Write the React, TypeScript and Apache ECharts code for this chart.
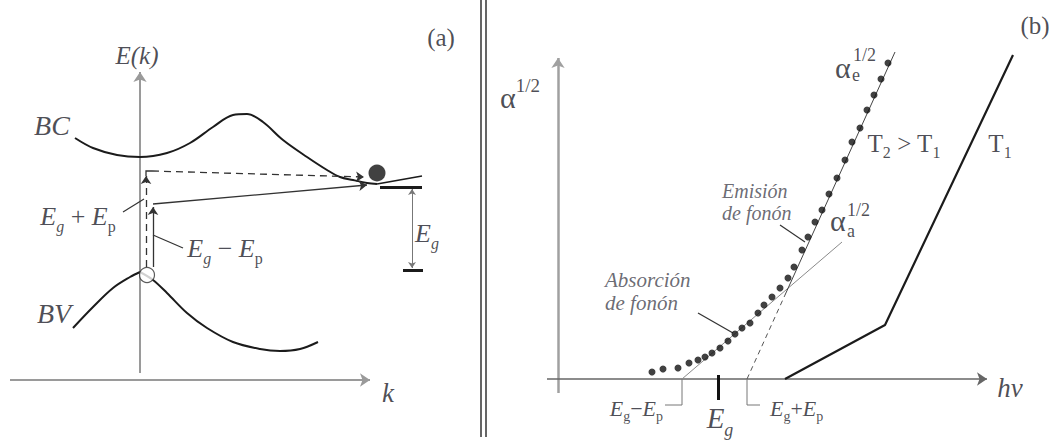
import React, { useEffect, useRef } from "react";
import * as echarts from "echarts";

type P = [number, number];

// ---------- (a) band diagram E(k): k and E in arbitrary units, origin at the axes crossing
const conductionBand: P[] = [
  [-3.25, 12.1], [-2.35, 11.6], [-1.15, 11.25], [0, 11.15], [1.35, 11.35], [2.5, 11.85],
  [3.65, 12.65], [4.65, 13.25], [5.35, 13.3], [6.15, 12.9], [7.15, 12.0], [8.35, 11.15],
  [9.35, 10.5], [10.0, 10.15], [10.65, 10.0], [11.35, 9.85], [11.85, 9.8],
];
const conductionTail: P[] = [[11.85, 9.8], [14.1, 10.2]];
const valenceLeft: P[] = [[-3.35, 2.6], [-2.35, 3.65], [-1.35, 4.6], [-0.5, 5.15], [0, 5.4]];
const valenceRight: P[] = [
  [0, 5.4], [0.65, 5.0], [1.35, 4.35], [2.35, 3.35], [3.35, 2.6], [4.65, 1.9],
  [6.0, 1.55], [7.0, 1.45], [8.0, 1.55], [8.9, 1.9],
];
const electron: P[] = [[11.85, 10.35]];
const hole: P[] = [[0.35, 5.25]];
const bandEdge: P[] = [[12.0, 9.65], [14.1, 9.65]];
const gapFoot: P[] = [[13.15, 5.5], [14.15, 5.5]];
const gapSpan: P[] = [[13.6, 9.55], [13.6, 5.6]];
const kAxis: P[] = [[-6.5, 0], [11.5, 0]];
const eAxis: P[] = [[0, 0.35], [0, 15.4]];
// photon + phonon emission path (dashed) and photon + phonon absorption path (solid)
const emissionRise: P[] = [[0.3, 5.65], [0.3, 10.2]];
const emissionCorner: P[] = [[0.3, 10.2], [0.3, 10.45], [0.6, 10.45]];
const emissionRun: P[] = [[0.6, 10.45], [11.2, 10.15]];
const absorptionRise: P[] = [[0.65, 5.65], [0.65, 8.65]];
const absorptionRun: P[] = [[0.65, 8.8], [11.35, 9.75]];
const leadersA: P[][] = [
  [[-0.85, 8.4], [0.2, 9.05]],
  [[0.65, 7.25], [2.15, 6.6]],
];

// ---------- (b) sqrt(alpha) versus photon energy
const hvAxis: P[] = [[-0.55, 0], [21.45, 0]];
const alphaAxis: P[] = [[0, -0.7], [0, 16.05]];
const alphaA: P[] = [[6.2, 0], [14.2, 6.85]];
const alphaEDashed: P[] = [[9.45, 0], [11.35, 4.2]];
const alphaESolid: P[] = [[11.35, 4.2], [16.85, 16.35]];
const t1Curve: P[] = [[11.35, 0], [16.35, 2.7], [22.75, 16.2]];
const t2Points: P[] = [
  [4.7, 0.35], [5.25, 0.5], [6.0, 0.55], [6.55, 0.8], [7.0, 0.95], [7.35, 1.1], [7.7, 1.3],
  [8.1, 1.55], [8.5, 1.9], [8.85, 2.25], [9.2, 2.55], [9.6, 2.8], [10.0, 3.3], [10.3, 3.7],
  [10.7, 4.1], [11.1, 4.55], [11.5, 5.05], [11.8, 5.6], [12.2, 6.45], [12.5, 7.1], [12.85, 7.85],
  [13.2, 8.45], [13.55, 9.25], [13.95, 10.05], [14.35, 10.95], [14.7, 11.85], [15.1, 12.55],
  [15.45, 13.45], [15.8, 14.2], [16.15, 15.0], [16.5, 15.8],
];
const bracketMinus: P[] = [[6.2, 0], [6.2, -1.3], [5.35, -1.3]];
const bracketPlus: P[] = [[9.45, 0], [9.45, -1.3], [10.1, -1.3]];
const gapTick: P[] = [[8.0, 0.2], [8.0, -1.05]];
const leadersB: P[][] = [
  [[7.0, 3.3], [8.75, 2.3]],
  [[11.1, 7.7], [12.35, 6.85]],
];

type Note = { at: P; text: string; size: number; align?: "left" | "center" | "right"; color?: string };

const notesA: Note[] = [
  { at: [-0.15, 16.25], text: "{i|E(k)}", size: 25 },
  { at: [12.4, -0.65], text: "{i|k}", size: 27 },
  { at: [15.05, 17.15], text: "{r|(a)}", size: 25 },
  { at: [-4.4, 12.75], text: "{i|BC}", size: 28 },
  { at: [-4.3, 3.35], text: "{i|BV}", size: 28 },
  { at: [-3.1, 8.2], text: "{i|E}{is|g}{r| + }{i|E}{rs|p}", size: 26 },
  { at: [4.25, 6.6], text: "{i|E}{is|g}{r| − }{i|E}{rs|p}", size: 26 },
  { at: [13.75, 7.35], text: "{i|E}{is|g}", size: 26, align: "left" },
];

const notesB: Note[] = [
  { at: [-2.9, 14.1], text: "{r|α}{sup|1/2}", size: 30, align: "left" },
  { at: [13.85, 15.6], text: "{r|α}", size: 30, align: "left" },
  { at: [14.75, 16.2], text: "{r|1/2}", size: 18, align: "left" },
  { at: [14.7, 15.2], text: "{r|e}", size: 18, align: "left" },
  { at: [13.6, 7.95], text: "{r|α}", size: 30, align: "left" },
  { at: [14.45, 8.45], text: "{r|1/2}", size: 18, align: "left" },
  { at: [14.45, 7.4], text: "{r|a}", size: 18, align: "left" },
  { at: [17.3, 11.8], text: "{r|T}{rs|2}{r| > T}{rs|1}", size: 25 },
  { at: [22.1, 11.8], text: "{r|T}{rs|1}", size: 25 },
  { at: [22.6, -0.45], text: "{i|hν}", size: 27 },
  { at: [23.85, 17.7], text: "{r|(b)}", size: 25 },
  { at: [8.2, 8.85], text: "{n|Emisión}\n{n|de fonón}", size: 20, align: "left", color: "#45454f" },
  { at: [2.35, 4.4], text: "{n|Absorción}\n{n|de fonón}", size: 21, align: "left", color: "#45454f" },
  { at: [5.25, -1.45], text: "{i|E}{rs|g}{r|−}{i|E}{rs|p}", size: 22, align: "right" },
  { at: [10.6, -1.45], text: "{i|E}{rs|g}{r|+}{i|E}{rs|p}", size: 22, align: "left" },
  { at: [8.1, -1.95], text: "{i|E}{is|g}", size: 29 },
];

const serif = "'Liberation Serif', 'Times New Roman', serif";
const ink = "#1e1e2a";

function richFor(size: number, color: string) {
  const base = { fontFamily: serif, color, verticalAlign: "middle" as const };
  const lh = Math.round(size * 1.4);
  const small = Math.round(size * 0.62);
  const smallLh = Math.round(size * 0.65);
  return {
    i: { ...base, fontStyle: "italic", fontSize: size, lineHeight: lh },
    r: { ...base, fontSize: size, lineHeight: lh },
    n: { ...base, fontStyle: "italic", fontSize: size, lineHeight: Math.round(size * 1.1) },
    is: { ...base, fontStyle: "italic", fontSize: small, lineHeight: smallLh, verticalAlign: "bottom" },
    rs: { ...base, fontSize: small, lineHeight: smallLh, verticalAlign: "bottom" },
    sup: { ...base, fontSize: Math.round(size * 0.62), lineHeight: smallLh, verticalAlign: "top" },
  };
}

function noteSeries(grid: number, notes: Note[]) {
  return {
    type: "scatter",
    xAxisIndex: grid,
    yAxisIndex: grid,
    symbolSize: 1,
    itemStyle: { color: "rgba(0,0,0,0)" },
    silent: true,
    z: 10,
    data: notes.map((n) => ({
      value: n.at,
      label: {
        show: true,
        position: "inside",
        formatter: n.text,
        align: n.align ?? "center",
        verticalAlign: "middle",
        color: n.color ?? ink,
        rich: richFor(n.size, n.color ?? ink),
      },
    })),
  };
}

// Straight segments (optionally with arrowheads) or polylines without arrowheads.
function segs(grid: number, paths: P[][], lineStyle: any, symbol: any = "none", symbolSize: any = 9, z = 3) {
  return {
    type: "lines",
    coordinateSystem: "cartesian2d",
    xAxisIndex: grid,
    yAxisIndex: grid,
    polyline: paths.some((p) => p.length > 2),
    silent: true,
    symbol,
    symbolSize,
    z,
    lineStyle: { opacity: 1, curveness: 0, ...lineStyle },
    data: paths.map((coords) => ({ coords })),
  };
}

function curve(grid: number, data: P[], width: number, smooth: number | boolean, color = "#1b1b1b") {
  return {
    type: "line",
    xAxisIndex: grid,
    yAxisIndex: grid,
    data,
    smooth,
    symbol: "none",
    silent: true,
    z: 4,
    lineStyle: { color, width },
  };
}

export default function App() {
  const ref = useRef<HTMLDivElement>(null);

  useEffect(() => {
    if (!ref.current) return;
    const chart = echarts.init(ref.current, null, { renderer: "svg" });
    const option: any = {
      animation: false,
      backgroundColor: "#ffffff",
      grid: [
        { left: 0, top: 0, width: 470, height: 441 },
        { left: 490, top: 0, width: 564, height: 441 },
      ],
      xAxis: [
        { gridIndex: 0, type: "value", min: -7, max: 16.5, show: false },
        { gridIndex: 1, type: "value", min: -3.4, max: 24.8, show: false },
      ],
      yAxis: [
        { gridIndex: 0, type: "value", min: -3.05, max: 19, show: false },
        { gridIndex: 1, type: "value", min: -3.1, max: 18.95, show: false },
      ],
      graphic: [
        { type: "line", shape: { x1: 481, y1: 0, x2: 481, y2: 437 }, style: { stroke: "#333", lineWidth: 1.5 } },
        { type: "line", shape: { x1: 486, y1: 0, x2: 486, y2: 437 }, style: { stroke: "#333", lineWidth: 1.5 } },
      ],
      series: [
        // ----- panel (a)
        segs(0, [kAxis, eAxis], { color: "#9a9a9a", width: 2 }, ["none", "arrow"], 10, 2),
        curve(0, conductionBand, 2, 0.35),
        curve(0, conductionTail, 1.5, false),
        curve(0, valenceLeft, 2, 0.35),
        curve(0, valenceRight, 2, 0.35),
        segs(0, [bandEdge], { color: "#1b1b1b", width: 3 }),
        segs(0, [gapFoot], { color: "#1b1b1b", width: 3 }),
        segs(0, [gapSpan], { color: "#777", width: 1 }, ["arrow", "arrow"], 6),
        segs(0, [emissionRise, emissionRun], { color: "#333", width: 1.3, type: [7, 5] }, ["none", "arrow"], 8, 5),
        segs(0, [emissionCorner], { color: "#333", width: 1.3 }),
        segs(0, [absorptionRise, absorptionRun], { color: "#333", width: 1.3 }, ["none", "arrow"], 8, 5),
        segs(0, leadersA, { color: "#333", width: 1.2 }),
        {
          type: "scatter", xAxisIndex: 0, yAxisIndex: 0, data: hole, symbolSize: 15, silent: true, z: 6,
          itemStyle: { color: "#ffffff", borderColor: "#333", borderWidth: 1.2 },
        },
        {
          type: "scatter", xAxisIndex: 0, yAxisIndex: 0, data: electron, symbolSize: 17, silent: true, z: 6,
          itemStyle: { color: "#111" },
        },
        noteSeries(0, notesA),
        // ----- panel (b)
        segs(1, [alphaAxis], { color: "#a0a0a0", width: 2.5 }, ["none", "arrow"], 10, 2),
        segs(1, [hvAxis], { color: "#666", width: 1.5 }, ["none", "arrow"], 10, 2),
        curve(1, t1Curve, 2.2, false),
        segs(1, [alphaA], { color: "#8a8a8a", width: 1 }),
        segs(1, [alphaEDashed], { color: "#555", width: 1, type: [5, 4] }),
        segs(1, [alphaESolid], { color: "#444", width: 1 }),
        {
          type: "scatter", xAxisIndex: 1, yAxisIndex: 1, data: t2Points, symbolSize: 7, silent: true, z: 6,
          itemStyle: { color: "#111" },
        },
        segs(1, [bracketMinus, bracketPlus], { color: "#777", width: 1 }),
        segs(1, [gapTick], { color: "#111", width: 3 }),
        segs(1, leadersB, { color: "#333", width: 1.2 }),
        noteSeries(1, notesB),
      ],
    };
    chart.setOption(option);
    return () => chart.dispose();
  }, []);

  return (
    <div
      ref={ref}
      style={{ position: "fixed", left: 0, top: 0, width: 1054, height: 441, background: "#fff" }}
    />
  );
}
